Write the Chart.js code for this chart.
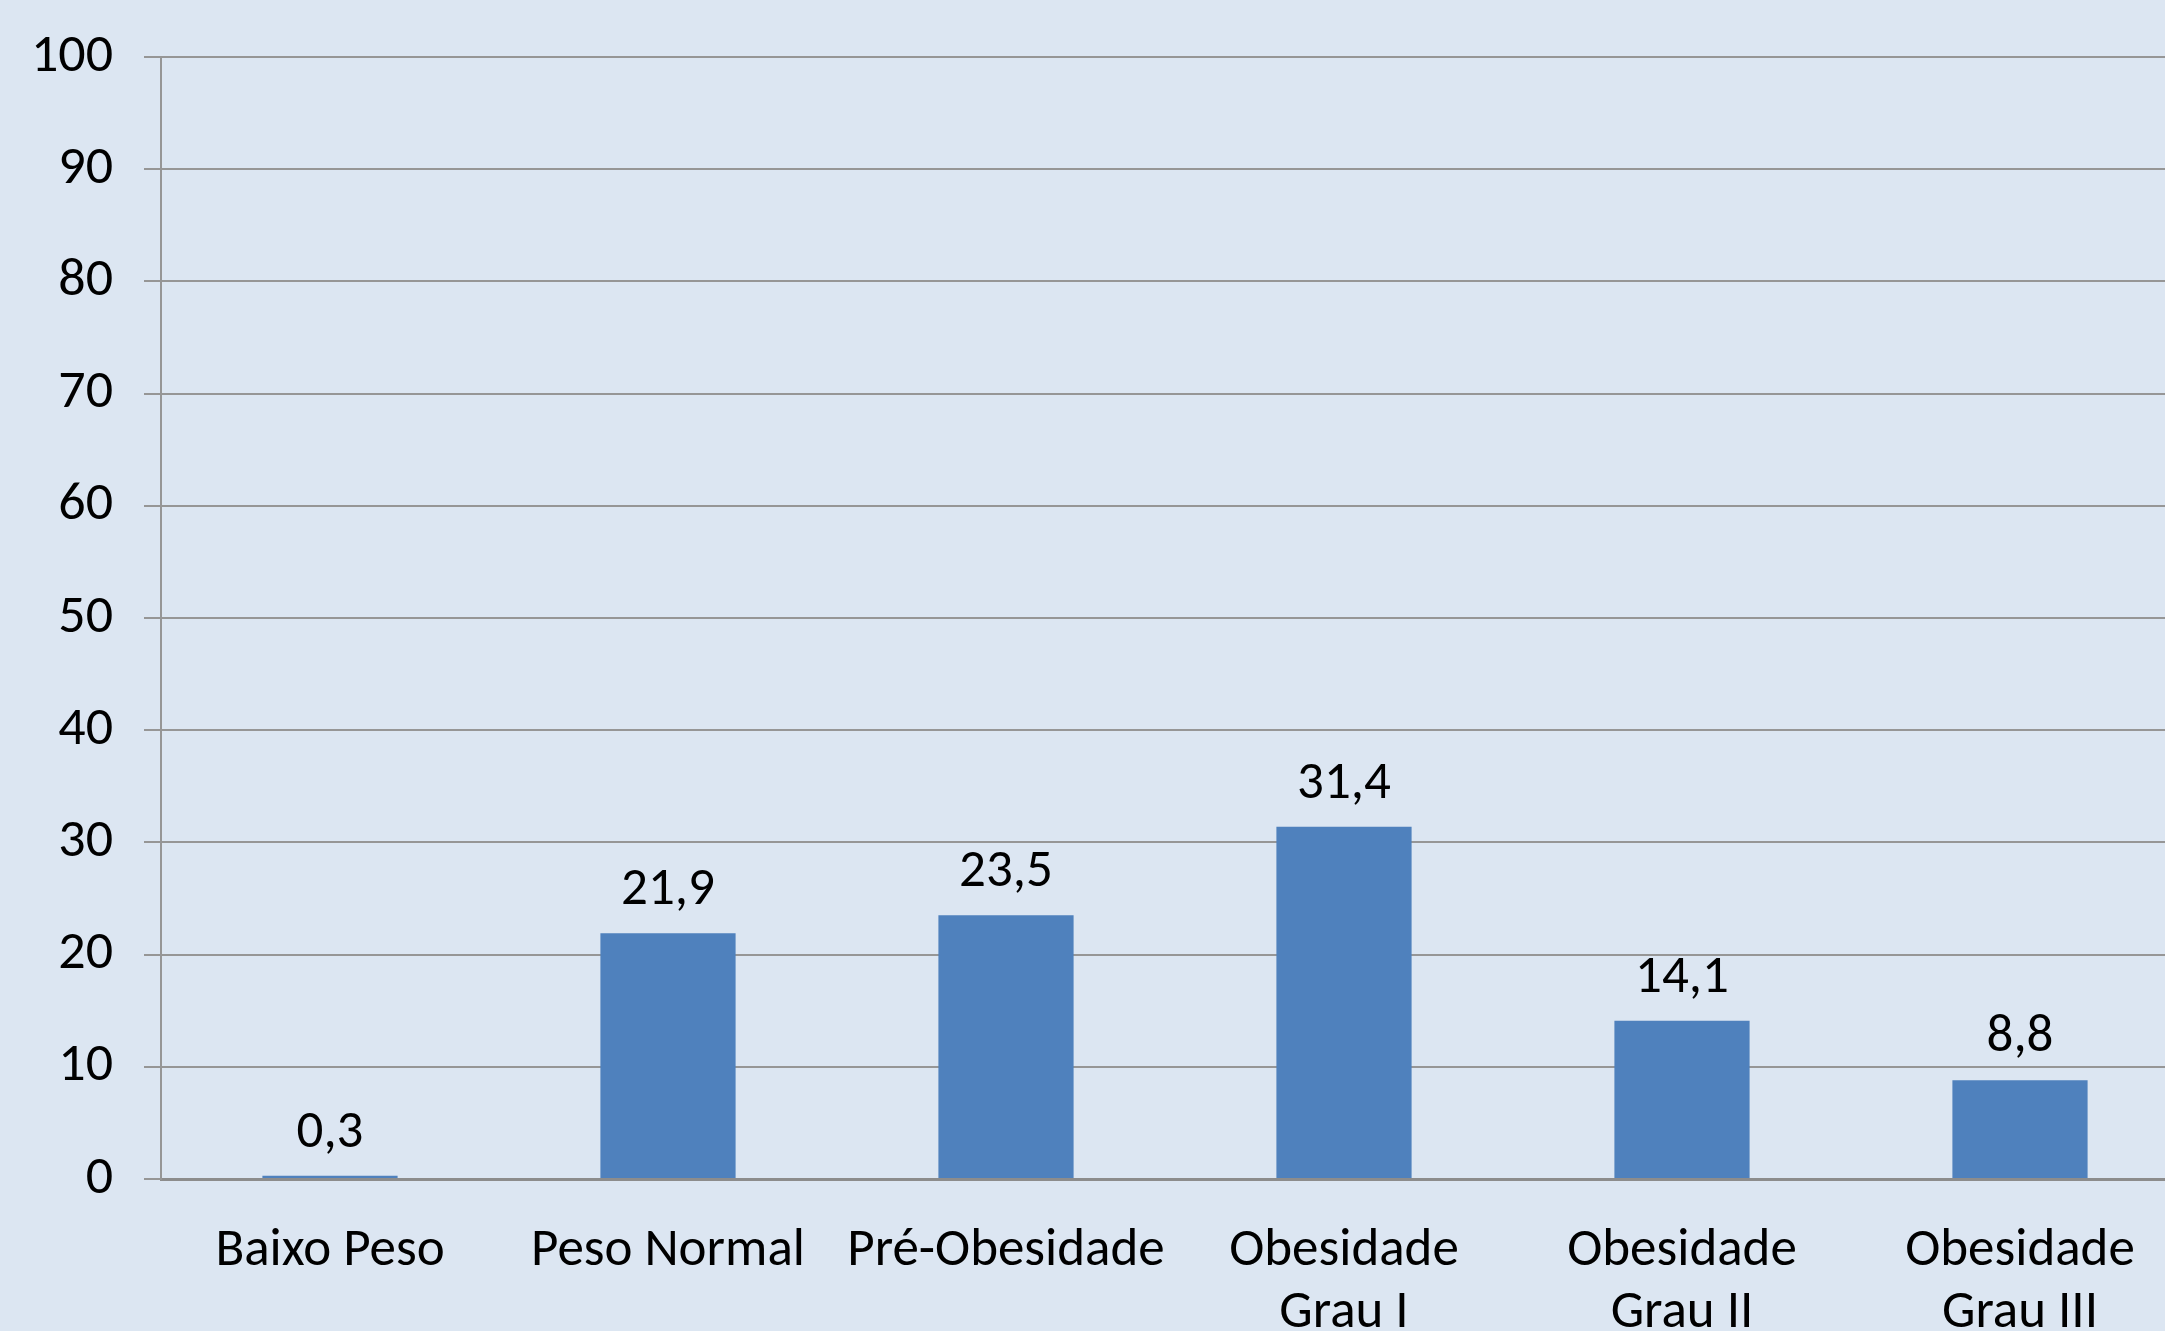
<!DOCTYPE html>
<html>
<head>
<meta charset="utf-8">
<script src="https://cdn.jsdelivr.net/npm/chart.js@4/dist/chart.umd.min.js"></script>
<style>
  html, body { margin: 0; padding: 0; overflow: hidden; background: #dce6f2; }
  #wrap { position: absolute; left: 0; top: 0; width: 2190px; height: 1400px; }
</style>
</head>
<body>
<div id="wrap"><canvas id="imc"></canvas></div>
<script>
// classes de IMC e percentagens
var categorias = [['Baixo Peso'], ['Peso Normal'], ['Pré-Obesidade'], ['Obesidade', 'Grau I'], ['Obesidade', 'Grau II'], ['Obesidade', 'Grau III']];
var percentagens = [0.3, 21.9, 23.5, 31.4, 14.1, 8.8];
var yTicks = [0, 10, 20, 30, 40, 50, 60, 70, 80, 90, 100];

var fonte = 'Carlito, Calibri, Lato, sans-serif';

// etiquetas de valor por cima das barras
var rotulos = {
    id: 'rotulos',
    afterDatasetsDraw(chart) {
        var ctx = chart.ctx;
        var meta = chart.getDatasetMeta(0);
        ctx.save();
        ctx.font = '53px ' + fonte;
        ctx.fillStyle = '#000';
        ctx.textAlign = 'center';
        ctx.textBaseline = 'alphabetic';
        meta.data.forEach(function (bar, i) {
            var txt = percentagens[i].toFixed(1).replace('.', ',');
            ctx.fillText(txt, bar.x, bar.y - 29);
        });
        ctx.restore();
    }
};

var ctx = document.getElementById('imc').getContext('2d');
var grafico = new Chart(ctx, {
    type: 'bar',
    data: {
        labels: categorias,
        datasets: [{
            data: percentagens,
            backgroundColor: '#4f81bd',
            borderWidth: 0,
            barPercentage: 0.4,
            categoryPercentage: 1
        }]
    },
    options: {
        responsive: true,
        maintainAspectRatio: false,
        animation: false,
        layout: { padding: { top: 57, right: 1, left: 0, bottom: 0 } },
        plugins: { legend: { display: false }, tooltip: { enabled: false } },
        scales: {
            x: {
                grid: { display: false },
                border: { display: true, color: '#8c8c8c', width: 3 },
                ticks: {
                    color: '#000',
                    font: { family: fonte, size: 53, lineHeight: 1.17 },
                    padding: 34,
                    maxRotation: 0,
                    autoSkip: false
                },
                afterFit(scale) { scale.height = 221; }
            },
            y: {
                min: 0,
                max: 100,
                afterBuildTicks(scale) { scale.ticks = yTicks.map(function (v) { return { value: v }; }); },
                grid: { color: '#969696', lineWidth: 2, tickLength: 17, drawTicks: true },
                border: { display: true, color: '#969696', width: 2 },
                ticks: {
                    color: '#000',
                    font: { family: fonte, size: 54 },
                    padding: 31
                },
                afterFit(scale) {
                    scale.width = 161;
                    // a margem de cima fica so com o padding do layout
                    scale.paddingTop = 0;
                    scale.paddingBottom = 0;
                }
            }
        }
    },
    plugins: [rotulos]
});
</script>
</body>
</html>
